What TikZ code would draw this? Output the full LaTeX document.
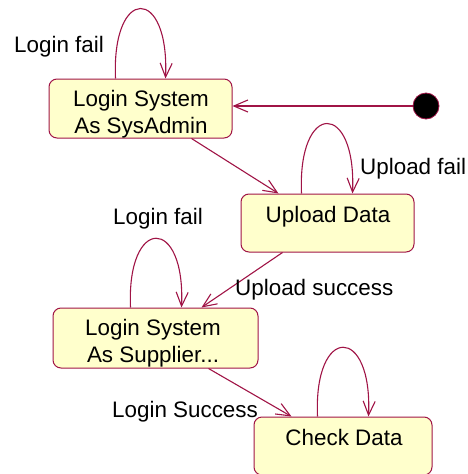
\documentclass[tikz,border=0pt]{standalone}
\usepackage{fontspec}
\setmainfont{Liberation Sans}
\usetikzlibrary{arrows.meta,calc}
\definecolor{edge}{RGB}{160,20,70}
\definecolor{statefill}{RGB}{255,255,204}

\begin{document}
\begin{tikzpicture}[x=1pt,y=-1pt,
  state/.style={draw=edge, fill=statefill, rounded corners=8pt, line width=1pt, inner sep=0pt},
  flow/.style={edge, line width=1.1pt, -{Straight Barb[length=14pt,width=12pt]}},
  lbl/.style={font=\fontsize{22.4}{26.5}\selectfont, inner sep=0pt},
]
\useasboundingbox (0,0) rectangle (467,474);
\begin{scope}
\clip (0,0) rectangle (467,474);

% states
\node[state, minimum width=183pt, minimum height=59pt] (sa) at (140.5,108.5) {};
\node[state, minimum width=173pt, minimum height=58pt] (ud) at (327.5,223) {};
\node[state, minimum width=205pt, minimum height=60pt] (sup) at (155.5,338) {};
\node[state, minimum width=178pt, minimum height=58pt] (ck) at (343,446) {};
\node[circle, fill=black, draw=edge, line width=0.8pt, minimum size=26pt, inner sep=0pt] (init) at (426,106) {};

% state texts (base anchor sits on the last line)
\node[lbl, align=center, anchor=base] (saT) at (141,133) {Login System\\As SysAdmin};
\node[lbl, anchor=base] (udT) at (328,222) {Upload Data};
\node[lbl, align=center, anchor=base] (supT) at (153,362) {Login System\\As Supplier...};
\node[lbl, anchor=base] (ckT) at (344,445) {Check Data};

% transitions
\draw[flow] (init) -- (sa.east |- init);
\draw[flow] ([xshift=143pt]sa.south west) -- ([xshift=38pt]ud.north west);
\draw[flow] ([xshift=42pt]ud.south west) -- ([xshift=149pt]sup.north west);
\draw[flow] ([xshift=156pt]sup.south west) -- ([xshift=38pt]ck.north west);

% self loops
\draw[flow] ([xshift=67pt]sa.north west) .. controls +(-4,-93) and +(4,-93) .. ([xshift=117pt]sa.north west);
\draw[flow] ([xshift=61pt]ud.north west) .. controls +(-4,-93) and +(4,-93) .. ([xshift=112pt]ud.north west);
\draw[flow] ([xshift=78pt]sup.north west) .. controls +(-4,-92) and +(4,-92) .. ([xshift=129pt]sup.north west);
\draw[flow] ([xshift=64pt]ck.north west) .. controls +(-4,-92) and +(4,-92) .. ([xshift=115pt]ck.north west);

% transition labels
\node[lbl, anchor=base west] (lf1) at (14,52) {Login fail};
\node[lbl, anchor=base west] (uf) at (360,174) {Upload fail};
\node[lbl, anchor=base west] (lf2) at (113,224) {Login fail};
\node[lbl, anchor=base west] (us) at (235,295) {Upload success};
\node[lbl, anchor=base west] (ls) at (112,417) {Login Success};
\end{scope}
\end{tikzpicture}
\end{document}
